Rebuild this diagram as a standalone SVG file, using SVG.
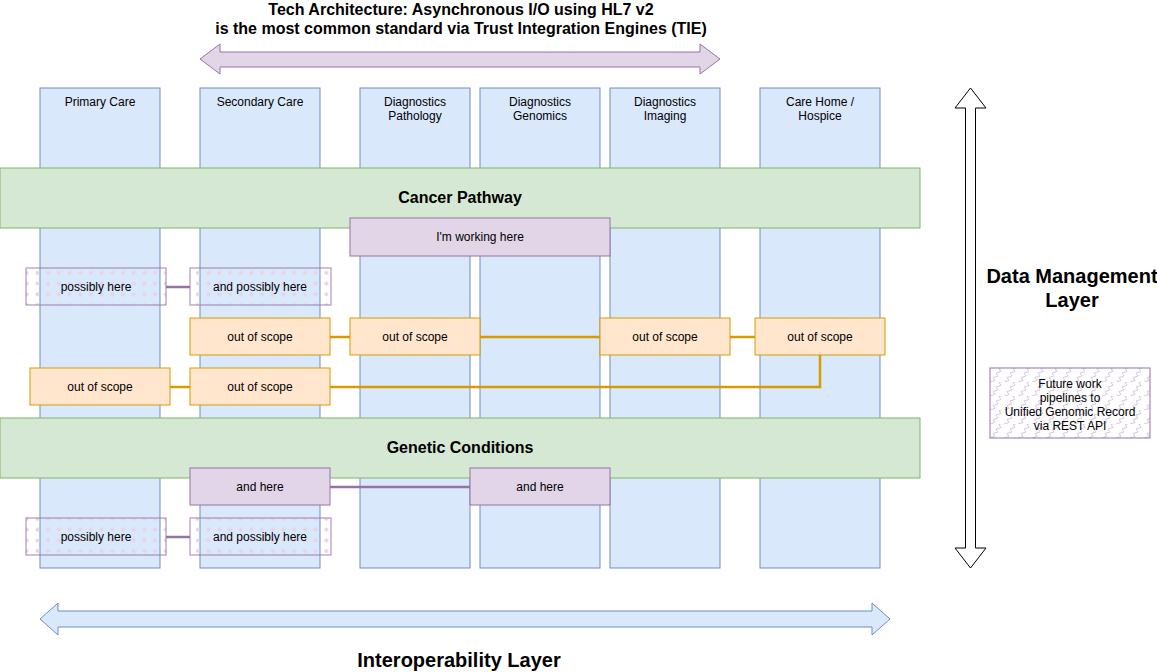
<svg xmlns="http://www.w3.org/2000/svg" width="1157" height="672" viewBox="0 0 1157 672">
<defs>
<pattern id="dots" x="0" y="0" width="10.7" height="10.7" patternUnits="userSpaceOnUse">
<circle cx="5.3" cy="5.3" r="2" fill="#e6d3e8"/>
</pattern>
<pattern id="zig" x="990" y="368" width="14" height="14" patternUnits="userSpaceOnUse">
<path d="M0 14 L5 12.5 L3 9.5 L8 8 L6 5 L11 3.5 L9 0.5 L14 -1" fill="none" stroke="#d6c6e0" stroke-width="1"/>
</pattern>
</defs>
<style>
text{font-family:"Liberation Sans",Arial,sans-serif;font-size:12px;fill:#000;text-anchor:middle}
.b{font-weight:bold;font-size:16px}
.bl{font-weight:bold;font-size:20px}
.col{fill:#dae8fc;stroke:#6c8ebf;stroke-width:1}
.grn{fill:#d5e8d4;stroke:#82b366;stroke-width:1}
.pur{fill:#e1d5e7;stroke:#9673a6;stroke-width:1}
.org{fill:#ffe6cc;stroke:#d79b00;stroke-width:1}
.dot{fill:url(#dots);stroke:#9673a6;stroke-opacity:0.75;stroke-width:1.2}
.zz{fill:url(#zig);stroke:#9673a6;stroke-width:1}
.co{fill:none;stroke:#d79b00;stroke-width:2.5}
.cp{fill:none;stroke:#9673a6;stroke-width:2.5}
</style>
<rect width="1157" height="672" fill="#fff"/>

<g id="title">
<text class="b" x="461" y="15">Tech Architecture: Asynchronous I/O using HL7 v2</text>
<text class="b" x="461" y="34">is the most common standard via Trust Integration Engines (TIE)</text>
</g>
<g id="top-arrow">
<path class="pur" d="M200 59 L220 44 L220 52 L700 52 L700 44 L720 59 L700 74 L700 67 L220 67 L220 74 Z"/>
</g>

<g id="col-primary"><rect class="col" x="40" y="88" width="120" height="480"/><text x="100" y="106">Primary Care</text></g>
<g id="col-secondary"><rect class="col" x="200" y="88" width="120" height="480"/><text x="260" y="106">Secondary Care</text></g>
<g id="col-pathology"><rect class="col" x="360" y="88" width="110" height="480"/><text x="415" y="106">Diagnostics</text><text x="415" y="120">Pathology</text></g>
<g id="col-genomics"><rect class="col" x="480" y="88" width="120" height="480"/><text x="540" y="106">Diagnostics</text><text x="540" y="120">Genomics</text></g>
<g id="col-imaging"><rect class="col" x="610" y="88" width="110" height="480"/><text x="665" y="106">Diagnostics</text><text x="665" y="120">Imaging</text></g>
<g id="col-carehome"><rect class="col" x="760" y="88" width="120" height="480"/><text x="820" y="106">Care Home /</text><text x="820" y="120">Hospice</text></g>

<g id="cancer-pathway"><rect class="grn" x="0" y="168" width="920" height="60"/><text class="b" x="460" y="203">Cancer Pathway</text></g>
<g id="genetic-conditions"><rect class="grn" x="0" y="418" width="920" height="60"/><text class="b" x="460" y="453">Genetic Conditions</text></g>

<g id="connectors">
<path class="cp" d="M166 287 L190 287"/>
<path class="co" d="M330 337 L350 337"/>
<path class="co" d="M480 337 L600 337"/>
<path class="co" d="M730 337 L755 337"/>
<path class="co" d="M170 387 L190 387"/>
<path class="co" d="M330 387 L820 387 L820 355"/>
<path class="cp" d="M330 487 L470 487"/>
<path class="cp" d="M166 537 L190 537"/>
</g>

<g id="working-here"><rect class="pur" x="350" y="218" width="260" height="38"/><text x="480" y="241">I'm working here</text></g>

<g id="possibly-here-1"><rect class="dot" x="26" y="268" width="140" height="37"/><text x="96" y="291">possibly here</text></g>
<g id="and-possibly-here-1"><rect class="dot" x="190" y="268" width="141" height="37"/><text x="260" y="291">and possibly here</text></g>

<g id="oos-1"><rect class="org" x="190" y="318" width="140" height="37"/><text x="260" y="341">out of scope</text></g>
<g id="oos-2"><rect class="org" x="350" y="318" width="130" height="37"/><text x="415" y="341">out of scope</text></g>
<g id="oos-3"><rect class="org" x="600" y="318" width="130" height="37"/><text x="665" y="341">out of scope</text></g>
<g id="oos-4"><rect class="org" x="755" y="318" width="130" height="37"/><text x="820" y="341">out of scope</text></g>
<g id="oos-5"><rect class="org" x="30" y="368" width="140" height="37"/><text x="100" y="391">out of scope</text></g>
<g id="oos-6"><rect class="org" x="190" y="368" width="140" height="37"/><text x="260" y="391">out of scope</text></g>

<g id="and-here-1"><rect class="pur" x="190" y="468" width="140" height="37"/><text x="260" y="491">and here</text></g>
<g id="and-here-2"><rect class="pur" x="470" y="468" width="140" height="37"/><text x="540" y="491">and here</text></g>

<g id="possibly-here-2"><rect class="dot" x="26" y="518" width="140" height="37"/><text x="96" y="541">possibly here</text></g>
<g id="and-possibly-here-2"><rect class="dot" x="190" y="518" width="141" height="37"/><text x="260" y="541">and possibly here</text></g>

<g id="data-arrow">
<path d="M970.5 88 L955 108 L965.5 108 L965.5 548 L955 548 L970.5 568 L986 548 L975.5 548 L975.5 108 L986 108 Z" fill="#fff" stroke="#000" stroke-width="1"/>
</g>
<g id="data-label">
<text class="bl" x="1072" y="283">Data Management</text>
<text class="bl" x="1072" y="307">Layer</text>
</g>

<g id="future-work"><rect class="zz" x="990" y="368" width="160" height="70"/>
<text x="1070" y="388">Future work</text>
<text x="1070" y="402">pipelines to</text>
<text x="1070" y="416">Unified Genomic Record</text>
<text x="1070" y="430">via REST API</text>
</g>

<g id="interop-arrow">
<path d="M40 619 L58 603 L58 611 L872 611 L872 603 L890 619 L872 635 L872 627 L58 627 L58 635 Z" fill="#dae8fc" stroke="#6c8ebf" stroke-width="1"/>
</g>
<g id="interop-label"><text class="bl" x="459" y="667">Interoperability Layer</text></g>
</svg>
